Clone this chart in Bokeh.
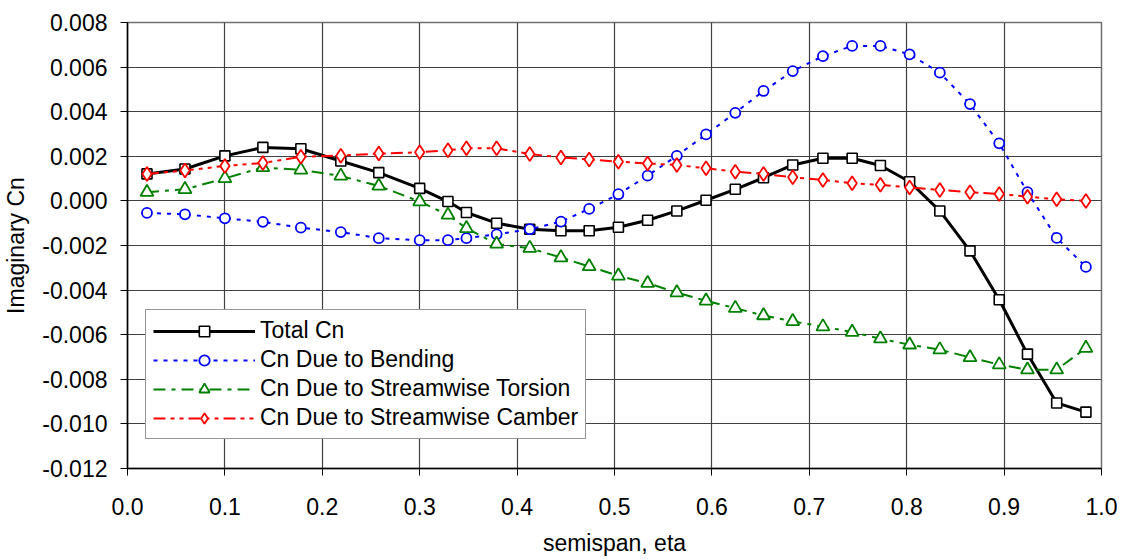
from bokeh.plotting import figure
from bokeh.models import Range1d, FixedTicker, PrintfTickFormatter, Legend, LegendItem
from bokeh.embed import file_html
from bokeh.resources import INLINE

eta = [0.02, 0.059, 0.1, 0.139, 0.178, 0.219, 0.258, 0.3, 0.329, 0.348, 0.379,
       0.413, 0.445, 0.474, 0.504, 0.534, 0.564, 0.594, 0.624, 0.653, 0.683,
       0.714, 0.744, 0.773, 0.803, 0.834, 0.865, 0.895, 0.924, 0.954, 0.984]

total_cn = [0.00121, 0.00143, 0.00202, 0.0024, 0.00234, 0.00179, 0.00127, 0.00056,
            -0.00003, -0.00052, -0.001, -0.00127, -0.00134, -0.00134, -0.00118,
            -0.00087, -0.00045, 0.00003, 0.00052, 0.00104, 0.00161, 0.00191,
            0.00191, 0.00159, 0.00086, -0.00045, -0.00224, -0.00443, -0.00687,
            -0.00906, -0.00947]

bending = [-0.00054, -0.0006, -0.00078, -0.00094, -0.0012, -0.0014, -0.00167,
           -0.00176, -0.00176, -0.00167, -0.0015, -0.00127, -0.00093, -0.00036,
           0.0003, 0.00113, 0.00202, 0.00298, 0.00395, 0.00493, 0.00582, 0.00649,
           0.00695, 0.00695, 0.00657, 0.00575, 0.00434, 0.00258, 0.00039,
           -0.00166, -0.00296]

torsion = [0.00039, 0.00052, 0.00101, 0.0015, 0.00139, 0.00112, 0.00067, -0.00003,
           -0.00063, -0.00123, -0.00193, -0.00212, -0.00254, -0.00294, -0.00336,
           -0.00369, -0.00411, -0.00448, -0.00481, -0.00514, -0.0054, -0.00564,
           -0.00588, -0.00618, -0.00645, -0.00667, -0.00702, -0.00734, -0.00757,
           -0.00757, -0.0066]

camber = [0.00121, 0.00136, 0.00157, 0.0017, 0.00198, 0.00203, 0.00212, 0.00218,
          0.00227, 0.00236, 0.00236, 0.0021, 0.00195, 0.00186, 0.00176, 0.00168,
          0.00161, 0.00146, 0.00131, 0.00121, 0.00106, 0.00094, 0.00079, 0.00072,
          0.0006, 0.00049, 0.00039, 0.00031, 0.00019, 0.00007, 0.0]

x_ticks = [0.0, 0.1, 0.2, 0.3, 0.4, 0.5, 0.6, 0.7, 0.8, 0.9, 1.0]
y_ticks = [-0.012, -0.010, -0.008, -0.006, -0.004, -0.002, 0.0, 0.002, 0.004, 0.006, 0.008]

FONT = "Liberation Sans"
FS = "23px"

p = figure(width=1117, height=559, output_backend="svg", toolbar_location=None,
           x_range=Range1d(0, 1), y_range=Range1d(-0.012, 0.008),
           min_border_left=127, min_border_right=16, min_border_top=22,
           min_border_bottom=91)

p.background_fill_color = "white"
p.border_fill_color = "white"
p.outline_line_color = "#707070"
p.outline_line_width = 1.5

p.xaxis.ticker = FixedTicker(ticks=x_ticks)
p.yaxis.ticker = FixedTicker(ticks=y_ticks)
p.xaxis.formatter = PrintfTickFormatter(format="%.1f")
p.yaxis.formatter = PrintfTickFormatter(format="%.3f")

for ax in (p.xaxis, p.yaxis):
    ax.major_label_text_font = FONT
    ax.major_label_text_font_size = FS
    ax.major_label_text_color = "black"
    ax.axis_label_text_font = FONT
    ax.axis_label_text_font_size = FS
    ax.axis_label_text_font_style = "normal"
    ax.axis_label_text_color = "black"
    ax.axis_line_color = "black"
    ax.axis_line_width = 1.5
    ax.major_tick_line_color = "black"
    ax.major_tick_in = 0
    ax.major_tick_out = 7
    ax.minor_tick_line_color = None

p.xaxis.axis_label = "semispan, eta"
p.yaxis.axis_label = "Imaginary Cn"
p.xaxis.major_label_standoff = 22
p.xaxis.axis_label_standoff = 12
p.yaxis.major_label_standoff = 13
p.yaxis.axis_label_standoff = 10

p.xgrid.ticker = FixedTicker(ticks=x_ticks)
p.ygrid.ticker = FixedTicker(ticks=y_ticks)
for g in (p.xgrid, p.ygrid):
    g.grid_line_color = "#404040"
    g.grid_line_width = 1.2

items = []

l1 = p.line(eta, total_cn, line_color="black", line_width=3)
s1 = p.scatter(eta, total_cn, marker="square", size=10, line_color="black",
               fill_color="white", line_width=1.6)
items.append(LegendItem(label="Total Cn", renderers=[l1, s1]))

l2 = p.line(eta, bending, line_color="#0000ff", line_width=2, line_dash="4 6")
s2 = p.scatter(eta, bending, marker="circle", size=10, line_color="#0000ff",
               fill_color="white", line_width=1.8)
items.append(LegendItem(label="Cn Due to Bending", renderers=[l2, s2]))

l3 = p.line(eta, torsion, line_color="#008000", line_width=2, line_dash="12 6 4 6")
s3 = p.scatter(eta, torsion, marker="triangle", size=13, line_color="#008000",
               fill_color="white", line_width=1.8)
items.append(LegendItem(label="Cn Due to Streamwise Torsion", renderers=[l3, s3]))

l4 = p.line(eta, camber, line_color="#ff0000", line_width=2, line_dash="12 5 4 5 4 5")
s4 = p.scatter(eta, camber, marker="diamond", size=14,
               line_color="#ff0000", fill_color="white", line_width=1.8)
items.append(LegendItem(label="Cn Due to Streamwise Camber", renderers=[l4, s4]))

legend = Legend(items=items, location=(18, 29))
legend.label_text_font = FONT
legend.label_text_font_size = FS
legend.label_text_color = "black"
legend.glyph_width = 102
legend.glyph_height = 26
legend.label_height = 26
legend.label_standoff = 5
legend.spacing = 2
legend.padding = 7
legend.margin = 0
legend.border_line_color = "#303030"
legend.border_line_width = 1.2
legend.background_fill_color = "white"
legend.background_fill_alpha = 1.0
p.add_layout(legend, "center")

open("out.html", "w").write(file_html(p, INLINE))
